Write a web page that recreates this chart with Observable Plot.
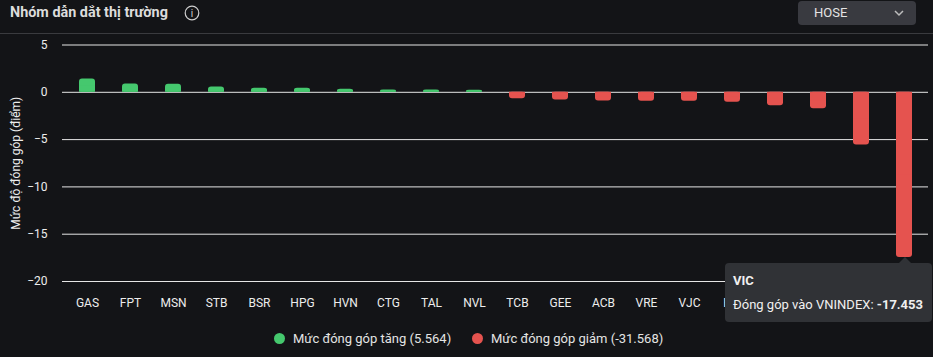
<!DOCTYPE html>
<html>
<head>
<meta charset="utf-8">
<script src="https://cdn.jsdelivr.net/npm/d3@7"></script>
<script src="https://cdn.jsdelivr.net/npm/@observablehq/plot@0.6"></script>
<style>
  html, body { margin: 0; padding: 0; background: #131417; width: 933px; height: 357px; overflow: hidden; font-family: Roboto, "Noto Sans", sans-serif; }
  #header { position: relative; height: 33px; border-bottom: 1px solid #3a3b3f; box-sizing: content-box; }
  #title { position: absolute; left: 10px; top: 4px; font-size: 14.4px; font-weight: bold; color: #dcdcdc; }
  #info { position: absolute; left: 184px; top: 5px; }
  #dropdown { position: absolute; left: 798px; top: 1px; width: 118px; height: 24px; background: #393a40; border-radius: 4px; }
  #dropdown span { position: absolute; left: 16px; top: 4px; font-size: 13px; color: #e4e4e4; }
  #dropdown svg { position: absolute; left: 96px; top: 8px; }
  #chart { position: relative; height: 284px; }
  #legend { position: absolute; top: 329px; left: 0; width: 933px; height: 20px; font-size: 13px; color: #e4e4e4; }
  .li { position: absolute; top: 2px; display: flex; align-items: center; }
  .dot { width: 11px; height: 11px; border-radius: 50%; margin-right: 8px; }
  #tooltip { position: absolute; left: 725px; top: 263px; width: 207px; height: 59px; background: #303236; border-radius: 4px; color: #f0f0f0; font-size: 13px; }
  #tooltip .arrow { position: absolute; left: 174px; top: -6px; width: 0; height: 0; border-left: 6px solid transparent; border-right: 6px solid transparent; border-bottom: 6px solid #303236; }
  #tooltip .t1 { position: absolute; left: 8px; top: 10px; font-weight: bold; }
  #tooltip .t2 { position: absolute; left: 8px; top: 34px; white-space: nowrap; }
</style>
</head>
<body>
<div id="header">
  <div id="title">Nhóm dẫn dắt thị trường</div>
  <svg id="info" width="16" height="16" viewBox="0 0 16 16">
    <circle cx="8" cy="8" r="6.8" fill="none" stroke="#cfcfcf" stroke-width="1.2"/>
    <text x="8" y="12" text-anchor="middle" font-size="10" fill="#cfcfcf" font-family="Roboto">i</text>
  </svg>
  <div id="dropdown"><span>HOSE</span>
    <svg width="10" height="8" viewBox="0 0 10 8"><polyline points="1,2 5,6 9,2" fill="none" stroke="#bdbdbd" stroke-width="1.5"/></svg>
  </div>
</div>
<div id="chart"></div>
<div id="legend">
  <div class="li" style="left:274px"><div class="dot" style="background:#45c86e"></div>Mức đóng góp tăng (5.564)</div>
  <div class="li" style="left:472px"><div class="dot" style="background:#e5534f"></div>Mức đóng góp giảm (-31.568)</div>
</div>
<div id="tooltip">
  <div class="arrow"></div>
  <div class="t1">VIC</div>
  <div class="t2">Đóng góp vào VNINDEX: <b>-17.453</b></div>
</div>
<script>
const categories = ["GAS","FPT","MSN","STB","BSR","HPG","HVN","CTG","TAL","NVL",
                    "TCB","GEE","ACB","VRE","VJC","BID","HDB","VPB","VHM","VIC"];
const values = [1.40, 0.87, 0.86, 0.55, 0.44, 0.43, 0.33, 0.24, 0.23, 0.21,
                -0.68, -0.82, -0.93, -0.94, -0.95, -1.05, -1.43, -1.75, -5.56, -17.453];
const yTicks = [5, 0, -5, -10, -15, -20];
const upColor = "#45c86e";
const downColor = "#e5534f";

const data = categories.map((name, i) => ({name, value: values[i]}));
const colorOf = d => d.value >= 0 ? upColor : downColor;

const chart = Plot.plot({
  width: 933,
  height: 284,
  marginLeft: 62,
  marginRight: 5,
  marginTop: 10.5,
  marginBottom: 37,
  style: {background: "transparent", color: "#e8e8e8", fontFamily: "Roboto, sans-serif", fontSize: "12px"},
  x: {domain: categories, paddingInner: 0.63, paddingOuter: 0.32},
  y: {domain: [-20, 5]},
  color: {type: "identity"},
  marks: [
    Plot.gridY(yTicks, {stroke: "#e6e6e6", strokeOpacity: 1}),
    Plot.barY(data, {x: "name", y: "value", fill: colorOf, rx: 3}),
    Plot.barY(data, {x: "name", y1: 0, y2: d => d.value / 2, fill: colorOf}),
    Plot.axisX({tickSize: 0, tickPadding: 17, label: null, fill: "#ededed"}),
    Plot.axisY(yTicks, {tickSize: 0, tickPadding: 15, label: "Mức độ đóng góp (điểm)", labelAnchor: "center", labelArrow: "none", labelOffset: 51, fill: "#ededed"})
  ]
});
document.getElementById("chart").appendChild(chart);
</script>
</body>
</html>
